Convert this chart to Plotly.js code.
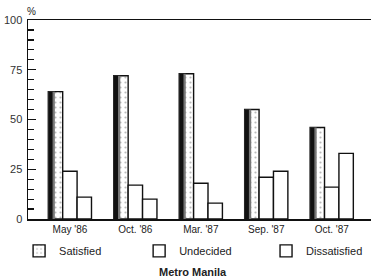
<!DOCTYPE html>
<html><head><meta charset="utf-8">
<script src="https://cdn.plot.ly/plotly-3.0.1.min.js"></script>
<style>html,body{margin:0;padding:0;background:#fff}#chart{width:372px;height:277px}</style>
</head><body><div id="chart"></div>
<script>
const categories = ["May '86", "Oct. '86", "Mar. '87", "Sep. '87", "Oct. '87"];
const satisfied = [64, 72, 73, 55, 46];
const undecided = [24, 17, 18, 21, 16];
const dissatisfied = [11, 10, 8, 24, 33];
const yTicks = [0, 25, 50, 75, 100];

const font = {family: "Liberation Sans, Arial, sans-serif", size: 10, color: "#222"};
const line = {color: "#111", width: 1.4};
const W = 0.22;

const traces = [
  {type: "bar", name: "Satisfied", legend: "legend", x: categories, y: satisfied, width: W, offset: -0.33,
   marker: {color: "#fff", line: line, pattern: {shape: ".", fgcolor: "#bbb", bgcolor: "#fff", size: 5, solidity: 0.15}}},
  {type: "bar", name: "shade2", showlegend: false, hoverinfo: "skip", x: categories, y: satisfied, width: 0.1, offset: -0.33,
   marker: {color: "#777", line: {width: 0}}},
  {type: "bar", name: "shade", showlegend: false, hoverinfo: "skip", x: categories, y: satisfied, width: 0.065, offset: -0.33,
   marker: {color: "#111", line: {width: 0}}},
  {type: "bar", name: "Undecided", legend: "legend2", x: categories, y: undecided, width: W, offset: -0.11,
   marker: {color: "#fff", line: line}},
  {type: "bar", name: "Dissatisfied", legend: "legend3", x: categories, y: dissatisfied, width: W, offset: 0.11,
   marker: {color: "#fff", line: line}}
];

const legFont = {family: font.family, size: 11, color: "#222"};
const mkLeg = (x) => ({orientation: "h", x: x, xanchor: "left", y: -0.16, yanchor: "middle",
                       font: legFont, bgcolor: "rgba(0,0,0,0)"});

const layout = {
  width: 372, height: 277,
  margin: {l: 28, r: 1, t: 20, b: 58},
  paper_bgcolor: "#fff", plot_bgcolor: "#fff",
  barmode: "overlay",
  font: font,
  showlegend: true,
  legend: mkLeg(-0.026),
  legend2: mkLeg(0.324),
  legend3: mkLeg(0.694),
  xaxis: {type: "category", range: [-0.64, 4.6], showline: true, linecolor: "#111", linewidth: 1.5,
          mirror: true, ticks: "", showgrid: false, zeroline: false, tickfont: font, fixedrange: true},
  yaxis: {range: [0, 100], tickvals: yTicks, ticktext: yTicks.map(String), showline: true, linecolor: "#111",
          linewidth: 1.5, ticks: "inside", ticklen: 8, tickwidth: 1.2, tickcolor: "#111",
          minor: {dtick: 5, tick0: 0, ticks: "inside", ticklen: 6, tickwidth: 1.2, tickcolor: "#111", showgrid: false},
          showgrid: false, zeroline: false, tickfont: {family: font.family, size: 11, color: "#333"}, ticklabelstandoff: 2},
  annotations: [
    {text: "%", xref: "paper", yref: "paper", x: 0.01, y: 1.045, showarrow: false, xanchor: "center", yanchor: "middle",
     font: {family: font.family, size: 10, color: "#222"}},
    {text: "<b>Metro Manila</b>", xref: "paper", yref: "paper", x: 0.481, y: -0.266, showarrow: false,
     xanchor: "center", yanchor: "middle", font: {family: font.family, size: 11, color: "#222"}}
  ]
};
Plotly.newPlot("chart", traces, layout, {displayModeBar: false, staticPlot: true});
</script></body></html>
